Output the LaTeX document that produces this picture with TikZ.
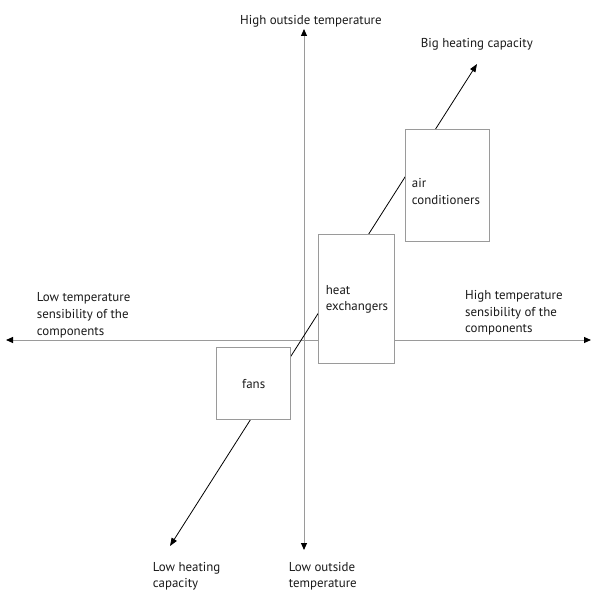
\documentclass[tikz,border=0pt]{standalone}
\usepackage{fontspec}
\setmainfont{PT Sans}
\usetikzlibrary{arrows.meta}
\definecolor{axisgray}{HTML}{9A9A9A}
\definecolor{txt}{HTML}{1A1A1A}
\begin{document}
\begin{tikzpicture}[x=1pt,y=-1pt,
  axistip/.tip={Triangle[length=7pt,width=6pt,fill=black,color=black]},
  diagtip/.tip={Triangle[length=8pt,width=6pt]},
  axis/.style={draw=axisgray,line width=1pt,axistip-axistip},
  diag/.style={draw=black,line width=0.8pt,diagtip-diagtip},
  box/.style={draw=axisgray,line width=1pt,fill=white,rectangle,inner sep=0pt},
  lbl/.style={font=\fontsize{12.9}{16.7}\selectfont,text=txt,align=left,inner sep=0pt,anchor=base west},
  boxtext/.style={font=\fontsize{12.9}{16.7}\selectfont,text=txt,align=left,inner sep=0pt}]
\useasboundingbox[fill=white] (0,0) rectangle (594,591);
% axes
\coordinate (vtop) at (304,29);
\coordinate (vbot) at (304,550);
\coordinate (hleft) at (6,340);
\coordinate (hright) at (591,340);
\draw[axis] (vbot) -- (vtop);
\draw[axis] (hleft) -- (hright);
% diagonal
\coordinate (dlow) at (170,546);
\coordinate (dhigh) at (477,64);
\draw[diag] (dlow) -- (dhigh);
% boxes
\node[box,minimum width=83.6pt,minimum height=111pt] (ac) at (447.5,185.5) {};
\node[box,minimum width=76pt,minimum height=129pt] (hx) at (356.3,298.8) {};
\node[box,minimum width=74pt,minimum height=71.6pt] (fans) at (253.7,383.5) {};
% box texts (anchor = baseline of last line)
\node[lbl] (actext) at (411.7,204) {air\\conditioners};
\node[lbl] (hxtext) at (325.7,310.7) {heat\\exchangers};
\node[boxtext] (fanstext) at (253.7,384) {fans};
% axis labels
\node[lbl] (hot) at (240,24.3) {High outside temperature};
\node[lbl,font=\fontsize{12.9}{15.5}\selectfont] (cold) at (288.7,587.3) {Low outside\\temperature};
\node[lbl] (lowsens) at (36.7,335) {Low temperature\\sensibility of the\\components};
\node[lbl] (highsens) at (465,332.7) {High temperature\\sensibility of the\\components};
\node[lbl] (big) at (420.7,47.6) {Big heating capacity};
\node[lbl,font=\fontsize{12.9}{15.5}\selectfont] (small) at (152.7,587.3) {Low heating\\capacity};
\end{tikzpicture}
\end{document}
